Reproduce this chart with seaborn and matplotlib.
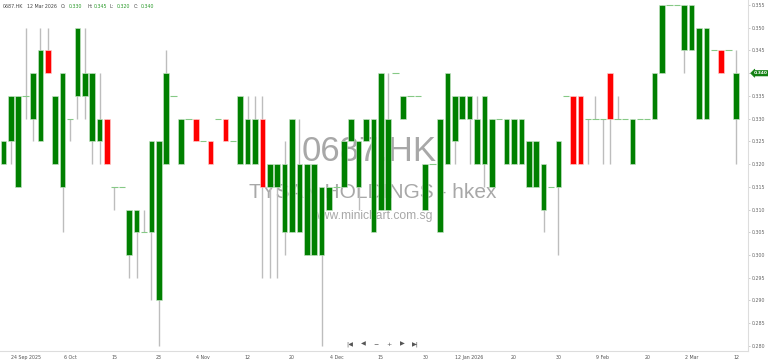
import numpy as np
import pandas as pd
import matplotlib
matplotlib.use("Agg")
import matplotlib.pyplot as plt
import seaborn as sns
from matplotlib.transforms import blended_transform_factory

# ---- data ----
open_ = [0.320, 0.325, 0.315, 0.335, 0.330, 0.325, 0.345, 0.320, 0.315, 0.330,
         0.335, 0.335, 0.325, 0.325, 0.330, 0.315, 0.315, 0.300, 0.305, 0.305,
         0.305, 0.290, 0.320, 0.335, 0.320, 0.330, 0.330, 0.325, 0.325, 0.330,
         0.330, 0.325, 0.320, 0.320, 0.320, 0.330, 0.315, 0.315, 0.305, 0.305,
         0.305, 0.300, 0.300, 0.300, 0.310, 0.315, 0.315, 0.325, 0.315, 0.325,
         0.305, 0.310, 0.310, 0.340, 0.330, 0.335, 0.335, 0.310, 0.320, 0.305,
         0.320, 0.325, 0.330, 0.330, 0.320, 0.320, 0.315, 0.330, 0.320, 0.320,
         0.320, 0.315, 0.315, 0.310, 0.315, 0.315, 0.335, 0.335, 0.335, 0.330,
         0.330, 0.330, 0.340, 0.330, 0.330, 0.320, 0.330, 0.330, 0.330, 0.340,
         0.355, 0.355, 0.345, 0.345, 0.330, 0.330, 0.345, 0.345, 0.345, 0.330]
high = [0.325, 0.335, 0.335, 0.350, 0.340, 0.350, 0.350, 0.335, 0.340, 0.330,
        0.350, 0.350, 0.340, 0.340, 0.330, 0.315, 0.315, 0.310, 0.310, 0.310,
        0.325, 0.325, 0.345, 0.335, 0.330, 0.330, 0.330, 0.325, 0.325, 0.330,
        0.330, 0.325, 0.335, 0.335, 0.335, 0.335, 0.320, 0.320, 0.325, 0.330,
        0.330, 0.320, 0.320, 0.315, 0.315, 0.315, 0.325, 0.330, 0.325, 0.330,
        0.330, 0.340, 0.340, 0.340, 0.335, 0.335, 0.335, 0.320, 0.320, 0.330,
        0.340, 0.335, 0.335, 0.335, 0.335, 0.335, 0.330, 0.330, 0.330, 0.330,
        0.330, 0.325, 0.325, 0.320, 0.315, 0.325, 0.335, 0.335, 0.335, 0.330,
        0.335, 0.330, 0.340, 0.335, 0.330, 0.330, 0.330, 0.330, 0.340, 0.355,
        0.355, 0.355, 0.355, 0.355, 0.350, 0.350, 0.345, 0.345, 0.345, 0.345]
low = [0.320, 0.320, 0.315, 0.330, 0.325, 0.325, 0.340, 0.320, 0.305, 0.325,
       0.330, 0.330, 0.320, 0.320, 0.320, 0.310, 0.315, 0.295, 0.295, 0.305,
       0.290, 0.280, 0.320, 0.335, 0.320, 0.330, 0.325, 0.325, 0.320, 0.330,
       0.325, 0.325, 0.320, 0.320, 0.320, 0.295, 0.295, 0.295, 0.300, 0.305,
       0.305, 0.300, 0.300, 0.280, 0.310, 0.315, 0.315, 0.325, 0.310, 0.325,
       0.305, 0.310, 0.310, 0.340, 0.330, 0.335, 0.335, 0.310, 0.320, 0.305,
       0.320, 0.320, 0.330, 0.320, 0.320, 0.315, 0.315, 0.330, 0.320, 0.320,
       0.320, 0.315, 0.315, 0.305, 0.315, 0.300, 0.335, 0.320, 0.320, 0.320,
       0.330, 0.320, 0.320, 0.330, 0.330, 0.320, 0.330, 0.330, 0.330, 0.340,
       0.355, 0.355, 0.340, 0.345, 0.330, 0.330, 0.345, 0.340, 0.345, 0.320]
close = [0.325, 0.335, 0.335, 0.335, 0.340, 0.345, 0.340, 0.335, 0.340, 0.330,
         0.350, 0.340, 0.340, 0.330, 0.320, 0.315, 0.315, 0.310, 0.310, 0.305,
         0.325, 0.325, 0.340, 0.335, 0.330, 0.330, 0.325, 0.325, 0.320, 0.330,
         0.325, 0.325, 0.335, 0.330, 0.330, 0.315, 0.320, 0.320, 0.320, 0.330,
         0.320, 0.320, 0.320, 0.315, 0.315, 0.315, 0.325, 0.330, 0.325, 0.330,
         0.330, 0.340, 0.330, 0.340, 0.335, 0.335, 0.335, 0.320, 0.320, 0.330,
         0.340, 0.335, 0.335, 0.335, 0.330, 0.335, 0.330, 0.330, 0.330, 0.330,
         0.330, 0.325, 0.325, 0.320, 0.315, 0.325, 0.335, 0.320, 0.320, 0.330,
         0.330, 0.330, 0.330, 0.330, 0.330, 0.330, 0.330, 0.330, 0.340, 0.355,
         0.355, 0.355, 0.355, 0.355, 0.350, 0.350, 0.345, 0.340, 0.345, 0.340]
tick_positions = [3, 9, 15, 21, 27, 33, 39, 45, 51, 57, 63, 69, 75, 81, 87, 93, 99]
tick_labels = ["24 Sep 2025", "6 Oct", "15", "23", "4 Nov", "12", "20", "4 Dec",
               "15", "30", "12 Jan 2026", "20", "30", "9 Feb", "20", "2 Mar", "12"]
ytick_values = [0.280, 0.285, 0.290, 0.295, 0.300, 0.305, 0.310, 0.315,
                0.320, 0.325, 0.330, 0.335, 0.340, 0.345, 0.350, 0.355]

df = pd.DataFrame({"open": open_, "high": high, "low": low, "close": close})
df["idx"] = np.arange(len(df))
df["bottom"] = df[["open", "close"]].min(axis=1)
df["top"] = df[["open", "close"]].max(axis=1)
df["doji"] = np.isclose(df["open"], df["close"])
df["up"] = df["close"] >= df["open"]

sns.set_theme(style="white")
plt.rcParams["font.family"] = ["DejaVu Sans"]

W, H = 768, 363
fig = plt.figure(figsize=(W / 100, H / 100), dpi=100)
ax_bottom_px = 12
ax = fig.add_axes([0, ax_bottom_px / H, 748 / W, 1 - ax_bottom_px / H])

# watermark (behind candles)
wm = "#a8a8a8"
ax.text(369 / 748, 1 - 151.5 / 351, "0687.HK", transform=ax.transAxes, ha="center",
        va="center", fontsize=25, color=wm, family="Liberation Sans", zorder=0)
ax.text(372.5 / 748, 1 - 192 / 351, "TYSAN HOLDINGS - hkex", transform=ax.transAxes,
        ha="center", va="center", fontsize=15, color=wm, family="Liberation Sans", zorder=0)
ax.text(372 / 748, 1 - 215.5 / 351, "www.minichart.com.sg", transform=ax.transAxes,
        ha="center", va="center", fontsize=8.7, color=wm, family="Liberation Sans", zorder=0)

# wicks
wk = df[df["high"] > df["low"]]
ax.vlines(wk["idx"], wk["low"], wk["high"], color="#bdbdbd", lw=1.0, zorder=1)

# bodies
body = df[~df["doji"]]
up = body[body["up"]]
dn = body[~body["up"]]
ax.bar(up["idx"], up["top"] - up["bottom"], bottom=up["bottom"], width=0.76,
       color="#008000", edgecolor="#c8e4c8", linewidth=0.45, zorder=2)
ax.bar(dn["idx"], dn["top"] - dn["bottom"], bottom=dn["bottom"], width=0.76,
       color="#ff0000", edgecolor="#ffd0d0", linewidth=0.45, zorder=2)

# doji dashes
dj = df[df["doji"]]
ax.hlines(dj["close"], dj["idx"] - 0.42, dj["idx"] + 0.42, color="#86c986", lw=0.8, zorder=2)

# axes styling
ax.set_xlim(-3.4 / 7.4, (748 - 3.4) / 7.4)
px = 0.005 / 22.73
ax.set_ylim(0.355 - (351 - 5) * px, 0.355 + 5 * px)
ax.set_xticks(tick_positions)
ax.set_xticklabels(tick_labels)
ax.set_yticks(ytick_values)
last_close = close[-1]
ax.set_yticklabels(["" if np.isclose(v, last_close) else f"{v:.3f}" for v in ytick_values])
ax.yaxis.tick_right()
ax.tick_params(axis="x", length=0, pad=3.2, labelsize=3.4, labelcolor="#555555")
ax.tick_params(axis="y", length=1.5, width=0.5, color="#bbbbbb", pad=1.2,
               labelsize=3.4, labelcolor="#666666")
for s in ["top", "left"]:
    ax.spines[s].set_visible(False)
for s in ["right", "bottom"]:
    ax.spines[s].set_color("#dddddd")
    ax.spines[s].set_linewidth(0.8)
ax.grid(False)

# current price tag
tr = blended_transform_factory(ax.transAxes, ax.transData)
ax.text(1.0075, last_close, f"{last_close:.3f}", transform=tr, ha="left", va="center",
        fontsize=3.2, color="white", fontweight="bold",
        bbox=dict(boxstyle="larrow,pad=0.18", fc="#108010", ec="#108010", lw=0.4),
        clip_on=False, zorder=5)

# header
hy = 1 - 6.7 / H
def ftxt(xp, s, c):
    fig.text(xp / W, hy, s, ha="left", va="center", fontsize=3.4, color=c)
lab, val = "#444444", "#2a9a2a"
ftxt(2.5, "0687.HK", lab)
ftxt(27.3, "12 Mar 2026", lab)
ftxt(60.5, "O:", lab)
ftxt(68.8, f"{open_[-1]:.3f}", val)
ftxt(87, "H:", lab)
ftxt(93.5, f"{high[-1]:.3f}", val)
ftxt(110, "L:", lab)
ftxt(116.5, f"{low[-1]:.3f}", val)
ftxt(134, "C:", lab)
ftxt(140.5, f"{close[-1]:.3f}", val)

# navigation buttons
ny = 1 - 344 / H
for xp, s in [(349.7, "|◀"), (363.3, "◀"), (375.8, "−"), (389.2, "+"), (402, "▶"), (415.5, "▶|")]:
    fig.text(xp / W, ny, s, ha="center", va="center", fontsize=4.5, color="#555555",
             family=["DejaVu Sans"])

fig.savefig("out.png", dpi=100)
